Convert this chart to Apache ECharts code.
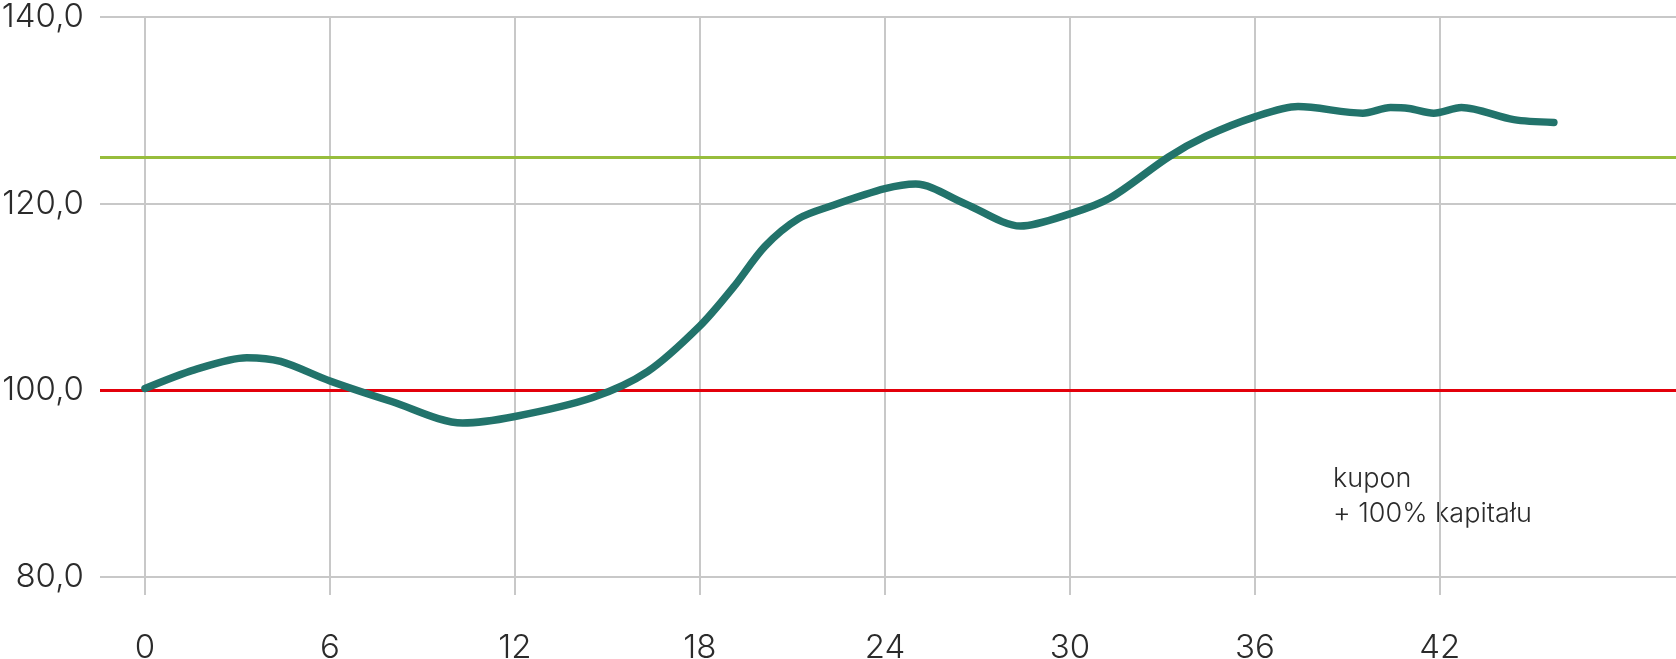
<!DOCTYPE html>
<html>
<head>
<meta charset="utf-8">
<script src="https://cdn.jsdelivr.net/npm/echarts@6/dist/echarts.min.js"></script>
<style>
html,body{margin:0;padding:0;background:#fff;}
#chart{width:1676px;height:659px;}
</style>
</head>
<body>
<div id="chart"></div>
<script>
// Months since start (x) and value of the product (y)
const months = [0, 1.6, 3.3, 4.4, 6, 8, 10.3, 12, 14.5, 16.3, 18, 19.1, 20.1, 21.2, 22.3, 24, 25, 26.6, 28.4, 30, 31.3, 33.2, 34.4, 36, 37.4, 39.5, 40.4, 41.0, 41.8, 42.7, 44.4, 45.7];
const values = [100.2, 102.2, 103.5, 103.1, 101.0, 98.8, 96.5, 97.2, 99.2, 102.0, 106.9, 111.1, 115.4, 118.4, 119.8, 121.6, 122.1, 120.0, 117.6, 118.9, 120.6, 125.0, 127.2, 129.3, 130.4, 129.7, 130.3, 130.2, 129.7, 130.3, 129.0, 128.7];
const xTicks = [0, 6, 12, 18, 24, 30, 36, 42];
const yTicks = [80, 100, 120, 140];
const barrierLevel = 100;   // red line
const couponLevel = 125;    // green line
const noteLines = ['kupon', '+ 100% kapitału'];

const FONT = 'Inter, "Noto Sans", sans-serif';
const seriesData = months.map((m, i) => [m, values[i]]);

const chart = echarts.init(document.getElementById('chart'), null, {renderer: 'canvas'});
chart.setOption({
  animation: false,
  backgroundColor: '#ffffff',
  grid: {left: 100, right: 0, top: 17, bottom: 82, containLabel: false, outerBoundsMode: 'none'},
  xAxis: {
    type: 'value',
    min: -1.46,
    max: 49.66,
    axisLine: {show: false},
    axisTick: {show: true, length: 18, customValues: xTicks, lineStyle: {color: '#c8c8c8', width: 2}},
    axisLabel: {customValues: xTicks, margin: 55, fontSize: 33, fontFamily: FONT, fontWeight: 300, color: '#2b2b2b'},
    splitLine: {show: true, lineStyle: {color: '#c8c8c8', width: 2}}
  },
  yAxis: {
    type: 'value',
    min: yTicks[0],
    max: yTicks[yTicks.length - 1],
    interval: 20,
    axisLine: {show: false},
    axisTick: {show: false},
    axisLabel: {
      margin: 16, fontSize: 33, fontFamily: FONT, fontWeight: 300, color: '#2b2b2b',
      formatter: v => v.toFixed(1).replace('.', ',')
    },
    splitLine: {show: true, lineStyle: {color: '#c8c8c8', width: 2}}
  },
  series: [
    {
      type: 'line',
      data: [],
      z: 2,
      silent: true,
      markLine: {
        silent: true,
        symbol: ['none', 'none'],
        label: {show: false},
        animation: false,
        data: [
          {yAxis: barrierLevel, lineStyle: {color: '#e3000b', width: 3, type: 'solid'}},
          {yAxis: couponLevel, lineStyle: {color: '#97bd3c', width: 3, type: 'solid'}}
        ]
      }
    },
    {
      type: 'line',
      data: seriesData,
      smooth: 0.3,
      symbol: 'none',
      z: 5,
      lineStyle: {color: '#22736b', width: 7.5, cap: 'round', join: 'round'}
    }
  ],
  graphic: [
    {
      type: 'text',
      left: 1333,
      top: 461,
      style: {
        text: noteLines.join('\n'),
        fontSize: 27,
        lineHeight: 35,
        fontFamily: FONT,
        fontWeight: 300,
        fill: '#2b2b2b'
      }
    }
  ]
});
</script>
</body>
</html>
